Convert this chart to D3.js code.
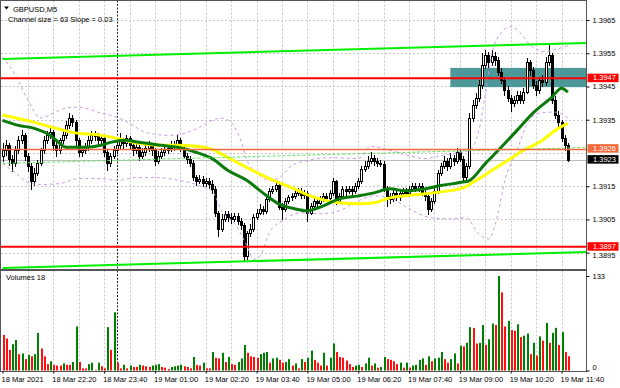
<!DOCTYPE html>
<html>
<head>
<meta charset="utf-8">
<script src="https://cdn.jsdelivr.net/npm/d3@7"></script>
<style>
  body { margin: 0; background: #fff; }
  svg { display: block; font-family: "Liberation Sans", Arial, sans-serif; }
  text { font-size: 7.5px; fill: #000; }
</style>
</head>
<body>
<svg width="620" height="388"></svg>
<script>
// chart texts
const symbolTitle = "GBPUSD,M5"
const channelText = "Channel size = 63 Slope = 0.03"
const volumeTitle = "Volumes 18"

// M5 candles from 18 Mar 21:00, one value per bar
const firstOpen = 1.39240
const closes = [
  1.39258,1.39273,1.39233,1.39221,1.39258,1.39288,1.39303,1.39242,1.39212,1.39167,
  1.39191,1.39221,1.39258,1.39288,1.39303,1.39312,1.39273,1.39258,1.39288,1.39303,
  1.39333,1.39355,1.39342,1.39288,1.39252,1.39258,1.39267,1.39288,1.39303,1.39300,
  1.39288,1.39294,1.39252,1.39221,1.39242,1.39258,1.39273,1.39288,1.39279,1.39294,
  1.39273,1.39258,1.39267,1.39242,1.39252,1.39264,1.39273,1.39258,1.39227,1.39242,
  1.39252,1.39258,1.39264,1.39273,1.39270,1.39288,1.39264,1.39242,1.39233,1.39221,
  1.39179,1.39167,1.39173,1.39161,1.39167,1.39158,1.39142,1.39070,1.39021,1.39052,
  1.39067,1.39058,1.39052,1.39061,1.39045,1.39033,1.38939,1.39009,1.39021,1.39058,
  1.39070,1.39082,1.39076,1.39112,1.39136,1.39142,1.39155,1.39088,1.39082,1.39106,
  1.39118,1.39121,1.39130,1.39136,1.39124,1.39130,1.39070,1.39091,1.39106,1.39100,
  1.39112,1.39121,1.39115,1.39130,1.39167,1.39106,1.39121,1.39142,1.39136,1.39142,
  1.39136,1.39152,1.39167,1.39203,1.39212,1.39227,1.39236,1.39227,1.39221,1.39218,
  1.39142,1.39121,1.39112,1.39130,1.39118,1.39130,1.39136,1.39130,1.39142,1.39152,
  1.39142,1.39152,1.39130,1.39121,1.39082,1.39106,1.39136,1.39191,1.39212,1.39227,
  1.39212,1.39236,1.39227,1.39252,1.39233,1.39179,1.39212,1.39355,1.39394,1.39415,
  1.39455,1.39515,1.39545,1.39524,1.39542,1.39530,1.39494,1.39470,1.39439,1.39415,
  1.39400,1.39409,1.39424,1.39409,1.39433,1.39524,1.39500,1.39455,1.39439,1.39470,
  1.39464,1.39524,1.39545,1.39409,1.39364,1.39342,1.39294,1.39273,1.39230
]
const highs = [
  1.39280,1.39290,1.39280,1.39245,1.39270,1.39300,1.39320,1.39310,1.39250,1.39220,
  1.39205,1.39230,1.39265,1.39300,1.39315,1.39330,1.39320,1.39285,1.39295,1.39315,
  1.39345,1.39370,1.39365,1.39350,1.39295,1.39270,1.39280,1.39300,1.39315,1.39315,
  1.39310,1.39305,1.39300,1.39260,1.39250,1.39270,1.39285,1.39310,1.39295,1.39305,
  1.39300,1.39280,1.39280,1.39275,1.39265,1.39275,1.39285,1.39280,1.39265,1.39255,
  1.39265,1.39270,1.39275,1.39285,1.39285,1.39305,1.39295,1.39270,1.39250,1.39240,
  1.39230,1.39185,1.39185,1.39180,1.39175,1.39175,1.39170,1.39150,1.39075,1.39065,
  1.39075,1.39075,1.39070,1.39070,1.39070,1.39055,1.39040,1.39015,1.39035,1.39065,
  1.39080,1.39095,1.39090,1.39120,1.39145,1.39150,1.39165,1.39160,1.39100,1.39115,
  1.39125,1.39130,1.39140,1.39145,1.39145,1.39140,1.39135,1.39100,1.39115,1.39115,
  1.39120,1.39130,1.39130,1.39140,1.39175,1.39170,1.39130,1.39150,1.39150,1.39150,
  1.39150,1.39160,1.39175,1.39210,1.39225,1.39240,1.39253,1.39245,1.39235,1.39230,
  1.39225,1.39150,1.39130,1.39140,1.39140,1.39140,1.39145,1.39145,1.39150,1.39160,
  1.39160,1.39160,1.39160,1.39140,1.39130,1.39115,1.39145,1.39200,1.39220,1.39240,
  1.39235,1.39250,1.39245,1.39265,1.39260,1.39240,1.39220,1.39370,1.39410,1.39430,
  1.39470,1.39550,1.39560,1.39555,1.39560,1.39555,1.39540,1.39505,1.39480,1.39450,
  1.39425,1.39420,1.39435,1.39435,1.39445,1.39535,1.39530,1.39510,1.39465,1.39480,
  1.39485,1.39540,1.39575,1.39550,1.39420,1.39375,1.39350,1.39305,1.39280
]
const lows = [
  1.39225,1.39245,1.39215,1.39195,1.39210,1.39250,1.39280,1.39230,1.39195,1.39142,
  1.39155,1.39185,1.39215,1.39250,1.39280,1.39295,1.39260,1.39240,1.39250,1.39280,
  1.39295,1.39325,1.39330,1.39275,1.39240,1.39240,1.39250,1.39260,1.39280,1.39290,
  1.39275,1.39280,1.39240,1.39200,1.39210,1.39235,1.39250,1.39265,1.39265,1.39270,
  1.39265,1.39245,1.39250,1.39230,1.39235,1.39245,1.39255,1.39245,1.39215,1.39220,
  1.39235,1.39245,1.39250,1.39255,1.39260,1.39265,1.39255,1.39235,1.39220,1.39210,
  1.39170,1.39155,1.39160,1.39150,1.39150,1.39145,1.39130,1.39060,1.39000,1.39015,
  1.39045,1.39045,1.39040,1.39045,1.39035,1.39020,1.38927,1.38932,1.39000,1.39015,
  1.39050,1.39065,1.39065,1.39070,1.39105,1.39130,1.39135,1.39080,1.39050,1.39075,
  1.39100,1.39110,1.39115,1.39125,1.39115,1.39115,1.39045,1.39065,1.39085,1.39090,
  1.39095,1.39105,1.39105,1.39110,1.39125,1.39095,1.39100,1.39115,1.39125,1.39130,
  1.39125,1.39130,1.39145,1.39160,1.39195,1.39205,1.39220,1.39215,1.39210,1.39210,
  1.39135,1.39090,1.39100,1.39105,1.39110,1.39110,1.39120,1.39120,1.39125,1.39135,
  1.39135,1.39135,1.39125,1.39110,1.39065,1.39075,1.39100,1.39130,1.39185,1.39205,
  1.39200,1.39205,1.39215,1.39220,1.39225,1.39165,1.39170,1.39205,1.39345,1.39385,
  1.39405,1.39445,1.39505,1.39510,1.39515,1.39515,1.39485,1.39460,1.39425,1.39405,
  1.39375,1.39390,1.39400,1.39400,1.39400,1.39430,1.39485,1.39445,1.39425,1.39430,
  1.39450,1.39455,1.39515,1.39400,1.39355,1.39330,1.39285,1.39260,1.39225
]
const volumes = [
  50,45,29,37,43,23,24,16,22,20,
  23,53,31,20,9,13,8,7,7,10,
  8,8,12,62,12,3,3,9,11,1,
  11,6,3,61,29,82,11,3,8,3,
  7,5,5,8,7,6,5,7,8,9,
  5,4,2,5,6,7,8,6,5,3,
  19,8,7,11,3,3,26,18,17,25,
  12,19,9,8,12,17,36,25,20,19,
  18,23,25,26,11,17,18,15,11,12,
  16,7,10,3,16,12,18,28,15,11,
  7,25,7,18,38,26,19,18,14,9,
  5,7,8,5,10,18,7,10,4,5,
  19,16,15,13,9,11,4,11,4,7,
  8,15,17,8,20,13,17,18,26,16,
  11,16,24,10,35,34,39,61,60,38,
  39,64,36,44,66,64,133,110,62,70,
  57,56,65,47,49,52,23,39,21,48,
  42,67,39,53,60,36,54,26,20
]

// indicator lines: [bar, price]
const maYellow = [[0,1.39364],[10,1.39342],[17,1.39324],[22,1.39312],[31,1.39303],[36,1.39294],[43,1.39279],[50,1.39273],[55,1.39273],[61,1.39270],[66,1.39261],[71,1.39236],[77,1.39206],[82,1.39182],[87,1.39161],[92,1.39142],[96,1.39124],[101,1.39109],[106,1.39100],[112,1.39097],[117,1.39100],[122,1.39115],[127,1.39121],[133,1.39127],[138,1.39133],[145,1.39145],[148,1.39161],[154,1.39197],[159,1.39227],[164,1.39258],[169,1.39282],[175,1.39324],[178,1.39339]]
const maGreen = [[0,1.39348],[5,1.39333],[10,1.39324],[15,1.39303],[18,1.39279],[20,1.39267],[26,1.39267],[31,1.39273],[34,1.39282],[39,1.39288],[43,1.39282],[50,1.39273],[55,1.39267],[61,1.39252],[66,1.39233],[71,1.39197],[77,1.39167],[82,1.39130],[87,1.39097],[92,1.39082],[96,1.39076],[101,1.39091],[106,1.39112],[112,1.39121],[117,1.39130],[122,1.39142],[127,1.39136],[133,1.39142],[138,1.39152],[144,1.39161],[147,1.39167],[152,1.39218],[157,1.39267],[162,1.39318],[167,1.39370],[173,1.39418],[176,1.39445],[178,1.39433]]
const bandUpper = [[0,1.39539],[4,1.39485],[8,1.39409],[12,1.39355],[16,1.39370],[20,1.39385],[24,1.39388],[31,1.39370],[36,1.39358],[40,1.39339],[45,1.39312],[48,1.39306],[53,1.39303],[56,1.39306],[62,1.39327],[67,1.39352],[69,1.39355],[72,1.39342],[75,1.39288],[77,1.39227],[80,1.39191],[84,1.39167],[88,1.39182],[91,1.39212],[96,1.39227],[103,1.39236],[112,1.39233],[116,1.39270],[122,1.39258],[128,1.39242],[133,1.39233],[138,1.39242],[144,1.39252],[147,1.39258],[150,1.39318],[152,1.39424],[154,1.39545],[157,1.39612],[160,1.39630],[163,1.39612],[166,1.39576],[171,1.39555],[174,1.39561],[178,1.39573]]
const bandLower = [[0,1.39218],[4,1.39191],[8,1.39161],[12,1.39155],[18,1.39158],[24,1.39173],[31,1.39173],[36,1.39167],[42,1.39176],[48,1.39176],[56,1.39167],[62,1.39152],[66,1.39136],[69,1.39076],[73,1.39039],[77,1.38970],[79,1.38930],[81,1.38939],[84,1.39009],[89,1.39052],[94,1.39070],[100,1.39067],[106,1.39076],[112,1.39106],[117,1.39121],[122,1.39115],[128,1.39082],[135,1.39055],[141,1.39052],[146,1.39055],[150,1.39006],[153,1.38991],[156,1.39067],[158,1.39161],[162,1.39258],[165,1.39333],[169,1.39370],[174,1.39373],[178,1.39355]]

// regression channel
const channelBars = [0, 184]
const channelUpper = [1.39533, 1.39581]
const channelLower = [1.38904, 1.38952]

// objects on the chart
const redLevels = [1.39475, 1.38968]
const redLabels = ["1.3947", "1.3897"]
const orangeLevel = 1.39263
const orangeLabel = "1.3926"
const bidPrice = 1.39230
const bidLabel = "1.3923"
const zoneBars = [141, 184]
const zonePrices = [1.39448, 1.39506]

// axes
const priceTicks = [1.3895, 1.3905, 1.3915, 1.3935, 1.3945, 1.3955, 1.3965]
const priceGrid = [1.3895, 1.3905, 1.3915, 1.3925, 1.3935, 1.3945, 1.3955, 1.3965]
const volumeTicks = [0, 133]
const timeLabelBars = [0, 16, 32, 48, 64, 80, 96, 112, 128, 144, 160, 176]
const timeLabels = ["18 Mar 2021", "18 Mar 22:20", "18 Mar 23:40", "19 Mar 01:00", "19 Mar 02:20", "19 Mar 03:40",
  "19 Mar 05:00", "19 Mar 06:20", "19 Mar 07:40", "19 Mar 09:00", "19 Mar 10:20", "19 Mar 11:40"]
const daySeparatorBar = 36

let plotRight = 586.5
let mainTop = 0.5, mainBottom = 269.5
let volTop = 270.5, volBottom = 371.5

let svg = d3.select("svg")

let x = d3.scaleLinear().domain([0, 176]).range([2.5, 561.5])
let y = d3.scaleLinear().domain([1.3895, 1.3965]).range([252.7, 20])
let yVol = d3.scaleLinear().domain([0, 133]).range([370.5, 276])

let bars = closes.map((c, i) => ({
    i: i,
    open: i ? closes[i - 1] : firstOpen,
    close: c,
    high: highs[i],
    low: lows[i],
    vol: volumes[i],
    up: i ? volumes[i] > volumes[i - 1] : false
}))

let defs = svg.append("defs")
defs.append("clipPath").attr("id", "clipMain").append("rect")
    .attr("x", 1).attr("y", 1).attr("width", plotRight - 1).attr("height", mainBottom - 1)
defs.append("clipPath").attr("id", "clipVol").append("rect")
    .attr("x", 1).attr("y", volTop + 0.5).attr("width", plotRight - 1).attr("height", volBottom - volTop - 1)

let main = svg.append("g").attr("clip-path", "url(#clipMain)")
let vol = svg.append("g").attr("clip-path", "url(#clipVol)")

// grid
let gridBars = d3.range(8, 184, 8)
;[main, vol].forEach(function (g, k) {
    g.selectAll(".vgrid").data(gridBars).join("line")
        .attr("x1", d => Math.round(x(d)) + 0.5).attr("x2", d => Math.round(x(d)) + 0.5)
        .attr("y1", k ? volTop : mainTop).attr("y2", k ? volBottom : mainBottom)
        .style("stroke", "#c6c6c6").style("stroke-dasharray", "2,2")
})
main.selectAll(".hgrid").data(priceGrid).join("line")
    .attr("x1", 1).attr("x2", plotRight)
    .attr("y1", d => Math.round(y(d)) + 0.5).attr("y2", d => Math.round(y(d)) + 0.5)
    .style("stroke", "#c6c6c6").style("stroke-dasharray", "2,2")

// zone behind the bars
main.append("rect")
    .attr("x", x(zoneBars[0])).attr("width", x(zoneBars[1]) - x(zoneBars[0]))
    .attr("y", y(zonePrices[1])).attr("height", y(zonePrices[0]) - y(zonePrices[1]))
    .style("fill", "#4d9898")

// day separator
;[main, vol].forEach(function (g, k) {
    g.append("line")
        .attr("x1", Math.round(x(daySeparatorBar)) + 0.5).attr("x2", Math.round(x(daySeparatorBar)) + 0.5)
        .attr("y1", k ? volTop : mainTop).attr("y2", k ? volBottom : mainBottom)
        .style("stroke", "#222").style("stroke-dasharray", "2,1.5")
})

// bid line
main.append("line")
    .attr("x1", 1).attr("x2", plotRight)
    .attr("y1", Math.round(y(bidPrice)) + 0.5).attr("y2", Math.round(y(bidPrice)) + 0.5)
    .style("stroke", "#bdbdbd")

// candles
let cx = d => Math.round(x(d.i))
main.selectAll(".wick").data(bars).join("line")
    .attr("x1", d => cx(d) + 0.5).attr("x2", d => cx(d) + 0.5)
    .attr("y1", d => Math.round(y(d.high))).attr("y2", d => Math.round(y(d.low)) + 1)
    .style("stroke", "#000")
main.selectAll(".body").data(bars).join("rect")
    .attr("x", d => cx(d) - 0.5).attr("width", 2)
    .attr("y", d => Math.round(y(Math.max(d.open, d.close))) + 0.5)
    .attr("height", d => Math.round(y(Math.min(d.open, d.close))) - Math.round(y(Math.max(d.open, d.close))))
    .style("fill", d => d.close >= d.open ? "#fff" : "#000")
    .style("stroke", "#000")

// bands
let line = d3.line().x(d => x(d[0])).y(d => y(d[1])).curve(d3.curveMonotoneX)
;[bandUpper, bandLower].forEach(function (band) {
    main.append("path").datum(band).attr("d", line)
        .style("fill", "none").style("stroke", "#c99ae6").style("stroke-dasharray", "3,3")
})

// moving averages
main.append("path").datum(maYellow).attr("d", line)
    .style("fill", "none").style("stroke", "#ffff00").style("stroke-width", 3)
main.append("path").datum(maGreen).attr("d", line)
    .style("fill", "none").style("stroke", "#0a7a0a").style("stroke-width", 3)

// channel
let channelLine = d3.line().x(d => x(d[0])).y(d => y(d[1]))
main.append("path").datum(channelBars.map((b, k) => [b, channelUpper[k]])).attr("d", channelLine)
    .style("stroke", "#00f000").style("stroke-width", 2).style("fill", "none")
main.append("path").datum(channelBars.map((b, k) => [b, channelLower[k]])).attr("d", channelLine)
    .style("stroke", "#00f000").style("stroke-width", 2).style("fill", "none")
main.append("path").datum(channelBars.map((b, k) => [b, (channelUpper[k] + channelLower[k]) / 2])).attr("d", channelLine)
    .style("stroke", "#5ee65e").style("stroke-dasharray", "3,2").style("fill", "none")

// horizontal levels
main.selectAll(".red-level").data(redLevels).join("line")
    .attr("x1", 1).attr("x2", plotRight)
    .attr("y1", d => y(d)).attr("y2", d => y(d))
    .style("stroke", "#ff0000").style("stroke-width", 2)
main.append("line")
    .attr("x1", 1).attr("x2", plotRight)
    .attr("y1", Math.round(y(orangeLevel)) + 0.5).attr("y2", Math.round(y(orangeLevel)) + 0.5)
    .style("stroke", "#f26a3c").style("stroke-width", 1.3)

// volumes
vol.selectAll(".vbar").data(bars).join("rect")
    .attr("x", d => cx(d)).attr("width", 2)
    .attr("y", d => yVol(d.vol)).attr("height", d => yVol(0) - yVol(d.vol))
    .style("fill", d => d.up ? "#008000" : "#ff1010")

// frames
svg.append("rect").attr("x", 0.5).attr("y", mainTop).attr("width", plotRight - 0.5).attr("height", mainBottom - mainTop)
    .style("fill", "none").style("stroke", "#555")
svg.append("rect").attr("x", 0.5).attr("y", volTop).attr("width", plotRight - 0.5).attr("height", volBottom - volTop)
    .style("fill", "none").style("stroke", "#555")

// price axis
let priceAxis = svg.append("g")
    .attr("transform", `translate(${plotRight},0)`)
    .call(d3.axisRight(y).tickValues(priceTicks).tickSize(3).tickPadding(3).tickFormat(d3.format(".4f")))
// the lowest label sits just under the 1.3897 tag, as in the original
priceAxis.selectAll(".tick text").attr("dy", d => d === 1.3895 ? "0.62em" : "0.32em")
let volAxis = svg.append("g")
    .attr("transform", `translate(${plotRight},0)`)
    .call(d3.axisRight(yVol).tickValues(volumeTicks).tickSize(3).tickPadding(3).tickFormat(d3.format("d")))
volAxis.selectAll(".tick text").attr("dy", (d) => d === 0 ? "-0.2em" : "0.32em")
let timeAxis = svg.append("g")
    .attr("transform", `translate(0,${volBottom})`)
    .call(d3.axisBottom(x).tickValues(timeLabelBars).tickSize(2).tickPadding(3).tickFormat((d, k) => timeLabels[k]))
timeAxis.selectAll(".tick text").style("text-anchor", "start").attr("dx", -1.5)
svg.selectAll(".domain").style("display", "none")
svg.selectAll(".tick line").style("stroke", "#000")
svg.selectAll(".tick text").style("font-size", "7.5px").style("fill", "#000").style("font-family", "Liberation Sans, Arial, sans-serif")

// price tags on the axis
let tags = redLevels.map((p, k) => ({ p: p, t: redLabels[k], c: "#ff0000" }))
    .concat([{ p: orangeLevel, t: orangeLabel, c: "#f26a3c" }, { p: bidPrice, t: bidLabel, c: "#000" }])
let tag = svg.selectAll(".tag").data(tags).join("g")
    .attr("transform", d => `translate(${plotRight + 1},${y(d.p)})`)
tag.append("rect").attr("x", 0).attr("y", -4.5).attr("width", 31).attr("height", 8.5).style("fill", d => d.c)
tag.append("text").attr("x", 5.5).attr("dy", "0.3em").text(d => d.t).style("fill", "#fff")

// titles
svg.append("path").attr("d", "M4,6.5 L9,6.5 L6.5,9.5 Z").style("fill", "#000")
svg.append("text").attr("x", 13).attr("y", 11.5).text(symbolTitle)
svg.append("text").attr("x", 8).attr("y", 21.5).text(channelText)
svg.append("text").attr("x", 6).attr("y", 280).text(volumeTitle)
</script>
</body>
</html>
